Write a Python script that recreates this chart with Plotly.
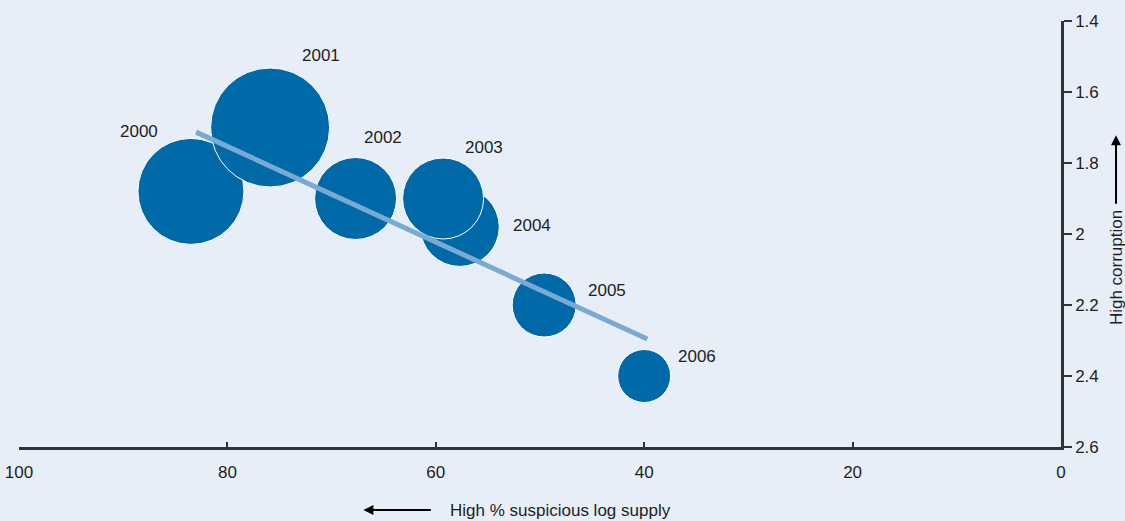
import plotly.graph_objects as go

# ---- data ----
years = ["2000", "2001", "2002", "2003", "2004", "2005", "2006"]
suspicious_pct = [83.5, 75.9, 67.7, 59.3, 57.7, 49.6, 40.0]
corruption = [1.88, 1.70, 1.90, 1.90, 1.98, 2.20, 2.40]
bubble_size = [106, 119, 82, 81, 79, 64, 53]
draw_order = [0, 1, 2, 4, 3, 5, 6]

trend_x = [83.0, 39.7]
trend_y = [1.713, 2.296]

x_ticks = [100, 80, 60, 40, 20, 0]
y_ticks = [1.4, 1.6, 1.8, 2.0, 2.2, 2.4, 2.6]
y_ticktext = ["1.4", "1.6", "1.8", "2", "2.2", "2.4", "2.6"]

# label offsets (pixels) relative to bubble centres
label_dx = [-52, 51, 27, 41, 72, 63, 53]
label_dy = [60, 72, 61, 51, 1, 15, 20]

BG = "#e7eef7"
BUBBLE = "#006aa8"
TREND = "#7aaad3"
INK = "#1e1e1e"
FONT = "Liberation Sans, Arial, sans-serif"
FS = 17

fig = go.Figure()

fig.add_trace(go.Scatter(
    x=[suspicious_pct[i] for i in draw_order],
    y=[corruption[i] for i in draw_order],
    mode="markers",
    marker=dict(
        size=[bubble_size[i] for i in draw_order],
        sizemode="diameter",
        color=BUBBLE,
        opacity=1,
        line=dict(color="white", width=1),
    ),
    hoverinfo="skip",
    showlegend=False,
))

fig.add_trace(go.Scatter(
    x=trend_x, y=trend_y, mode="lines",
    line=dict(color=TREND, width=5),
    hoverinfo="skip", showlegend=False,
))

annotations = []
for i, yr in enumerate(years):
    annotations.append(dict(
        x=suspicious_pct[i], y=corruption[i], xref="x", yref="y",
        text=yr, showarrow=False, xshift=label_dx[i], yshift=label_dy[i],
        font=dict(family=FONT, size=FS, color=INK),
    ))

# x axis title with arrow
annotations.append(dict(
    x=0.4117, y=-0.148, xref="paper", yref="paper",
    text="High % suspicious log supply", showarrow=False,
    xanchor="left", yanchor="middle",
    font=dict(family=FONT, size=FS, color=INK),
))
annotations.append(dict(
    x=0.3305, y=-0.148, xref="paper", yref="paper",
    text="", showarrow=True, ax=69, ay=0,
    arrowhead=2, arrowsize=1, arrowwidth=2, arrowcolor="#000",
))
# y axis title with arrow
annotations.append(dict(
    x=1.0528, y=0.420, xref="paper", yref="paper",
    text="High corruption", textangle=-90, showarrow=False,
    xanchor="center", yanchor="middle",
    font=dict(family=FONT, size=FS, color=INK),
))
annotations.append(dict(
    x=1.0528, y=0.732, xref="paper", yref="paper",
    text="", showarrow=True, ax=0, ay=70,
    arrowhead=2, arrowsize=1, arrowwidth=2, arrowcolor="#000",
))

fig.update_layout(
    width=1125, height=521,
    paper_bgcolor=BG, plot_bgcolor=BG,
    margin=dict(l=19, r=64, t=21, b=74),
    font=dict(family=FONT, size=FS, color=INK),
    annotations=annotations,
    xaxis=dict(
        range=[100, 0], tickvals=x_ticks, automargin=False,
        showgrid=False, zeroline=False,
        showline=True, linecolor="#333", linewidth=2.5,
        ticks="inside", ticklen=5, tickwidth=2, tickcolor="#333",
        ticklabelstandoff=8,
        tickfont=dict(family=FONT, size=FS, color=INK),
    ),
    yaxis=dict(
        range=[2.6, 1.4], tickvals=y_ticks, ticktext=y_ticktext,
        side="right", showgrid=False, zeroline=False, automargin=False,
        showline=True, linecolor="#333", linewidth=2.5,
        ticks="outside", ticklen=8, tickwidth=2, tickcolor="#333",
        tickfont=dict(family=FONT, size=FS, color=INK),
    ),
)

fig.write_html(
    "out.html",
    config={"displayModeBar": False},
    post_script="document.body.style.margin='0';document.body.style.background='" + BG + "';",
)
